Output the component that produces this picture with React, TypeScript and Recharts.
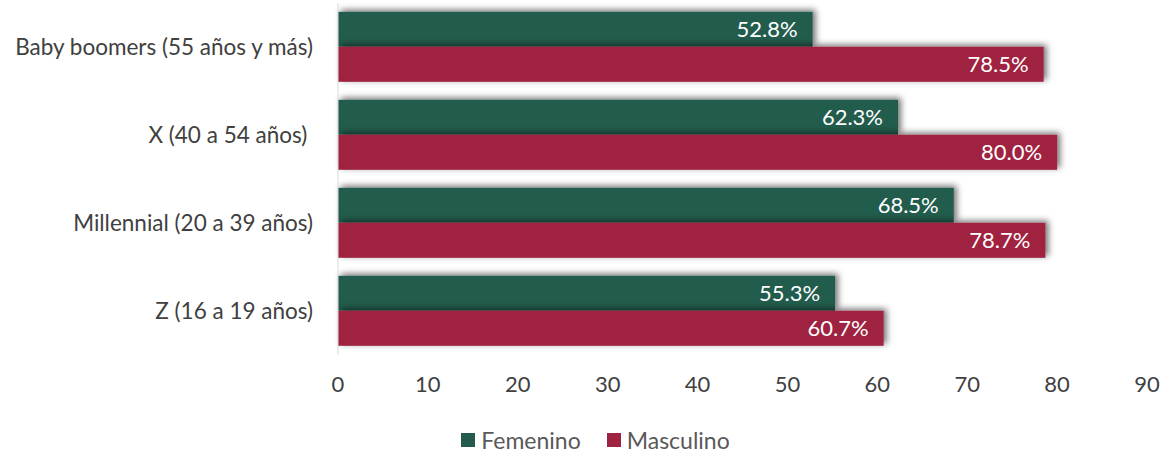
import React from 'react';
import { BarChart, Bar, XAxis, YAxis, LabelList, Legend } from 'recharts';

const categories = ['Baby boomers (55 años y más)', 'X (40 a 54 años) ', 'Millennial (20 a 39 años)', 'Z (16 a 19 años)'];
const femenino = [52.8, 62.3, 68.5, 55.3];
const masculino = [78.5, 80.0, 78.7, 60.7];
const xTicks = [0, 10, 20, 30, 40, 50, 60, 70, 80, 90];

const data = categories.map((c, i) => ({ name: c, Femenino: femenino[i], Masculino: masculino[i] }));

const GREEN = '#235B4E';
const RED = '#9F2241';
const FONT = 'Lato, "Noto Sans", sans-serif';

const ShadowBar = (props: any) => {
  const { x, y, width, height, fill } = props;
  if (!width || width <= 0) return null;
  return <rect x={x} y={y} width={width} height={height} fill={fill} filter="url(#barShadow)" />;
};

const YTick = (props: any) => {
  const { x, y, payload } = props;
  return (
    <text x={x} y={y} dy="0.35em" textAnchor="end" fill="#404040" fontSize={22.5} fontFamily={FONT} style={{ whiteSpace: 'pre' }}>
      {payload.value}
    </text>
  );
};

const legendItems = [
  { label: 'Femenino', color: GREEN },
  { label: 'Masculino', color: RED },
];

const LegendContent = () => (
  <div style={{ display: 'flex', justifyContent: 'center', alignItems: 'center', fontFamily: FONT, fontSize: 23, color: '#595959', paddingLeft: 70, paddingTop: 3 }}>
    {legendItems.map((it) => (
      <div key={it.label} style={{ display: 'flex', alignItems: 'center', marginRight: 26 }}>
        <div style={{ width: 14, height: 14, background: it.color, marginRight: 6 }} />
        <span>{it.label}</span>
      </div>
    ))}
  </div>
);

export default function App() {
  return (
    <div style={{ position: 'absolute', left: 0, top: 0, width: 1161, height: 453, background: '#fff' }}>
      <svg width={0} height={0} style={{ position: 'absolute' }}>
        <defs>
          <filter id="barShadow" x="-10%" y="-50%" width="120%" height="200%">
            <feDropShadow dx={3} dy={-2} stdDeviation={3} floodColor="#000" floodOpacity={0.55} />
          </filter>
        </defs>
      </svg>
      <BarChart
        width={1161}
        height={453}
        data={data}
        layout="vertical"
        margin={{ top: 3, right: 14, left: 0, bottom: 0 }}
        barCategoryGap="10%"
        barGap={0}
      >
        <XAxis
          type="number"
          domain={[0, 90]}
          ticks={xTicks}
          axisLine={false}
          tickLine={false}
          tickMargin={15}
          height={68}
          tick={{ fill: '#404040', fontSize: 22, fontFamily: FONT }}
        />
        <YAxis
          type="category"
          dataKey="name"
          width={338}
          axisLine={{ stroke: '#d9d9d9', strokeWidth: 1 }}
          tickLine={false}
          tick={<YTick />}
          tickMargin={19}
        />
        <Legend verticalAlign="bottom" height={30} content={<LegendContent />} />
        <Bar dataKey="Femenino" fill={GREEN} shape={<ShadowBar />} isAnimationActive={false}>
          <LabelList
            dataKey="Femenino"
            position="insideRight"
            offset={15}
            formatter={(v: any) => `${Number(v).toFixed(1)}%`}
            style={{ fill: '#fff', fontSize: 22, fontFamily: FONT }}
          />
        </Bar>
        <Bar dataKey="Masculino" fill={RED} shape={<ShadowBar />} isAnimationActive={false}>
          <LabelList
            dataKey="Masculino"
            position="insideRight"
            offset={15}
            formatter={(v: any) => `${Number(v).toFixed(1)}%`}
            style={{ fill: '#fff', fontSize: 22, fontFamily: FONT }}
          />
        </Bar>
      </BarChart>
    </div>
  );
}
